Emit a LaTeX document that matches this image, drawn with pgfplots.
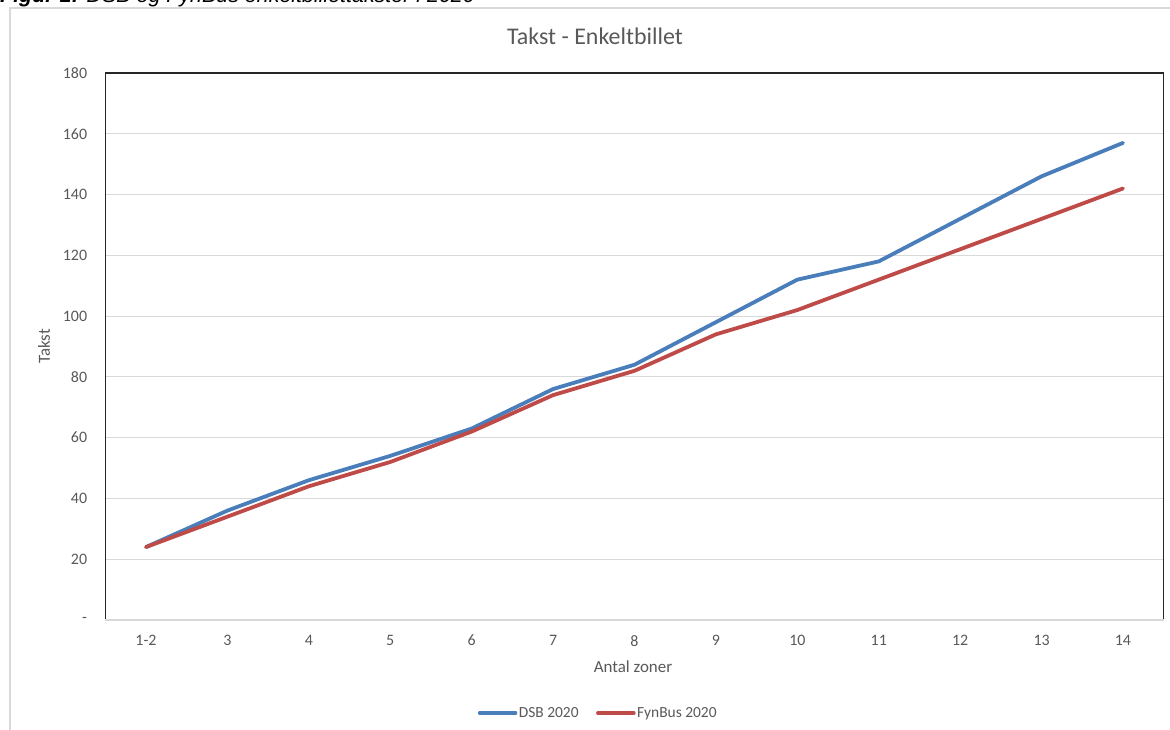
\documentclass[border=0pt]{standalone}
\usepackage{fontspec}
\setmainfont{Carlito}
\newfontfamily\captionfont{Liberation Sans}
\usepackage{pgfplots}
\pgfplotsset{compat=1.18}

\definecolor{dsbblue}{HTML}{4A7EBB}
\definecolor{fynred}{HTML}{BE4B48}
\definecolor{txtgray}{HTML}{595959}
\definecolor{gridgray}{HTML}{D9D9D9}

% single-ticket fares by number of zones
\pgfplotstableread{
idx dsb fynbus
0   24  24
1   36  34
2   46  44
3   54  52
4   63  62
5   76  74
6   84  82
7   98  94
8   112 102
9   118 112
10  132 122
11  146 132
12  157 142
}\fares

\begin{document}
\begin{tikzpicture}
\useasboundingbox (0,0) rectangle (1170bp,730bp);
\clip (0,0) rectangle (1170bp,730bp);
\fill[white] (0,0) rectangle (1170bp,730bp);

% figure caption
\node[anchor=base west, inner sep=0pt, text=black,
      font=\captionfont\fontsize{21.5}{24}\selectfont\itshape]
  at (0bp,727bp) {\textbf{Figur 1:} DSB og FynBus enkeltbillettakster i 2020};

% chart area frame
\draw[gridgray, line width=1.5bp] (10bp,-5bp) -- (10bp,722bp) -- (1180bp,722bp);

% chart title
\node[anchor=base, inner sep=0pt, text=txtgray, font=\fontsize{24}{28}\selectfont]
  at (595bp,685bp) {Takst - Enkeltbillet};

\begin{axis}[
  at={(105.3bp,110bp)}, anchor=south west,
  scale only axis, width=1058.4bp, height=547bp,
  xmin=-0.5, xmax=12.5, ymin=0, ymax=180,
  xtick={0,...,12},
  xticklabels={1-2,3,4,5,6,7,8,9,10,11,12,13,14},
  ytick={0,20,...,180},
  yticklabels={-\hspace{8bp},20,40,60,80,100,120,140,160,180},
  major tick length=0pt, tick style={draw=none},
  axis line style={draw=none},
  ymajorgrids, grid style={gridgray, line width=1.2bp},
  tick label style={text=txtgray, font=\fontsize{16}{19}\selectfont},
  yticklabel style={anchor=east, inner sep=0pt, xshift=-18bp},
  xticklabel style={anchor=north, inner sep=0pt, yshift=-15bp},
  xlabel={Antal zoner},
  xlabel style={at={(axis description cs:0.4986,-0.0859)}, anchor=center,
                inner sep=0pt, text=txtgray, font=\fontsize{17}{20}\selectfont},
  ylabel={Takst},
  ylabel style={at={(axis description cs:-0.0579,0.5)}, anchor=center, rotate=0,
                inner sep=0pt, text=txtgray, font=\fontsize{17}{20}\selectfont},
  legend columns=2,
  legend style={at={(axis description cs:0.4655,-0.170)}, anchor=center,
                draw=none, fill=none, text=txtgray,
                font=\fontsize{15.5}{18}\selectfont,
                nodes={inner sep=1.5bp},
                /tikz/every even column/.append style={column sep=16bp}},
  legend image code/.code={\draw[#1, line width=3.5bp, line cap=round]
                           (0bp,0bp) -- (36bp,0bp);},
  after end axis/.code={
    \draw[black!85, line width=1.5bp]
      (rel axis cs:0,0) -- (rel axis cs:0,1) -- (rel axis cs:1,1) -- (rel axis cs:1,0);
    \draw[gridgray, line width=1.5bp] (rel axis cs:0,0) -- (rel axis cs:1,0);
  },
]
\addplot[dsbblue, line width=3.8bp, line cap=round, line join=round]
  table[x=idx, y=dsb] {\fares};
\addlegendentry{DSB 2020}
\addplot[fynred, line width=3.8bp, line cap=round, line join=round]
  table[x=idx, y=fynbus] {\fares};
\addlegendentry{FynBus 2020}
\end{axis}
\end{tikzpicture}
\end{document}
